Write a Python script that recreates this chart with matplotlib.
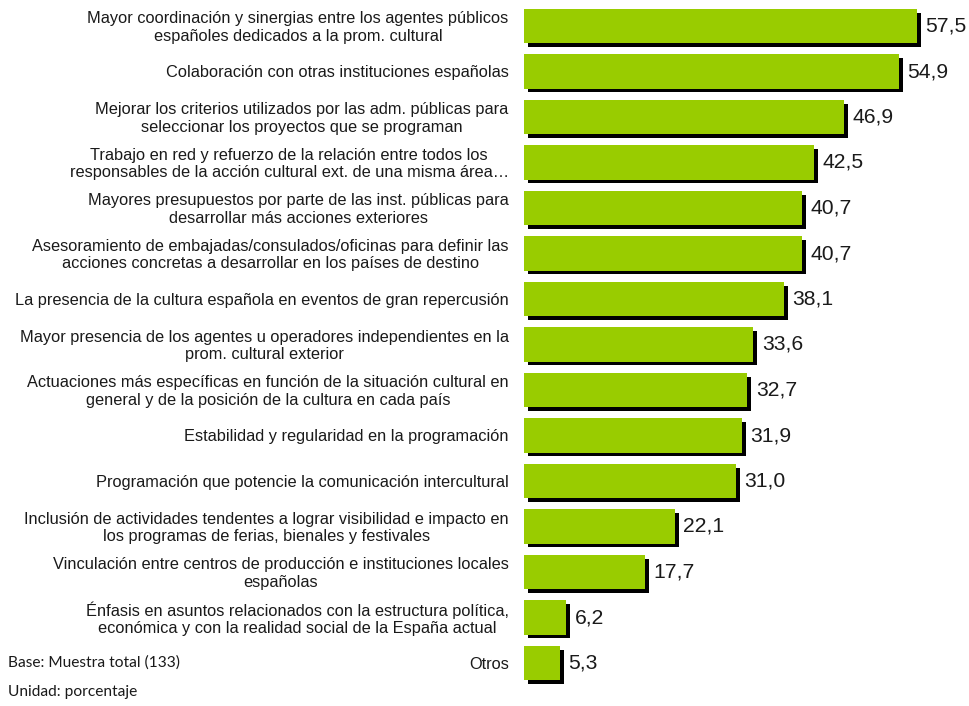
import matplotlib

matplotlib.use("Agg")
import matplotlib.pyplot as plt
import matplotlib.patheffects as pe

labels = [
    "Mayor coordinación y sinergias entre los agentes públicos\nespañoles dedicados a la prom. cultural",
    "Colaboración con otras instituciones españolas",
    "Mejorar los criterios utilizados por las adm. públicas para\nseleccionar los proyectos que se programan",
    "Trabajo en red y refuerzo de la relación entre todos los\nresponsables de la acción cultural ext. de una misma área…",
    "Mayores presupuestos por parte de las inst. públicas para\ndesarrollar más acciones exteriores",
    "Asesoramiento de embajadas/consulados/oficinas para definir las\nacciones concretas a desarrollar en los países de destino",
    "La presencia de la cultura española en eventos de gran repercusión",
    "Mayor presencia de los agentes u operadores independientes en la\nprom. cultural exterior",
    "Actuaciones más específicas en función de la situación cultural en\ngeneral y de la posición de la cultura en cada país",
    "Estabilidad y regularidad en la programación",
    "Programación que potencie la comunicación intercultural",
    "Inclusión de actividades tendentes a lograr visibilidad e impacto en\nlos programas de ferias, bienales y festivales",
    "Vinculación entre centros de producción e instituciones locales\nespañolas",
    "Énfasis en asuntos relacionados con la estructura política,\neconómica y con la realidad social de la España actual",
    "Otros",
]
values = [57.5, 54.9, 46.9, 42.5, 40.7, 40.7, 38.1, 33.6, 32.7, 31.9, 31.0, 22.1, 17.7, 6.2, 5.3]

W, H = 969, 706
fig = plt.figure(figsize=(W / 100, H / 100), dpi=100)

# axes spans from the bar baseline to the right edge of the figure
x0 = 524
ax = fig.add_axes([x0 / W, 0, 1 - x0 / W, 1])
ax.set_xlim(0, (W - x0) / 6.83)
step = 45.5
ax.set_ylim((H - 26) / step, -26 / step)
ax.axis("off")

ypos = list(range(len(values)))
bars = ax.barh(ypos, values, height=0.75, color="#99cc00", zorder=2)
for b in bars:
    b.set_path_effects([
        pe.SimplePatchShadow(offset=(2.8, -2.8), shadow_rgbFace="black", alpha=1.0),
        pe.Normal(),
    ])

for y, v, lab in zip(ypos, values, labels):
    ax.annotate(f"{v:.1f}".replace(".", ","), xy=(v, y), xytext=(6, 0),
                textcoords="offset points", va="center", ha="left",
                fontsize=15.2, family="Liberation Sans", color="#1a1a1a")
    ax.annotate(lab, xy=(0, y), xytext=(-11, -1), textcoords="offset points",
                va="center", ha="right", multialignment="center",
                fontsize=11.8, linespacing=1.2, family="Liberation Sans",
                color="#1a1a1a", annotation_clip=False)

fig.text(8 / W, 1 - 663 / H, "Base: Muestra total (133)", fontsize=11.2,
         family="Lato", va="center", ha="left", color="#1a1a1a")
fig.text(8 / W, 1 - 692 / H, "Unidad: porcentaje", fontsize=11.2,
         family="Lato", va="center", ha="left", color="#1a1a1a")

fig.savefig("out.png", dpi=100, facecolor="white")
plt.close(fig)
